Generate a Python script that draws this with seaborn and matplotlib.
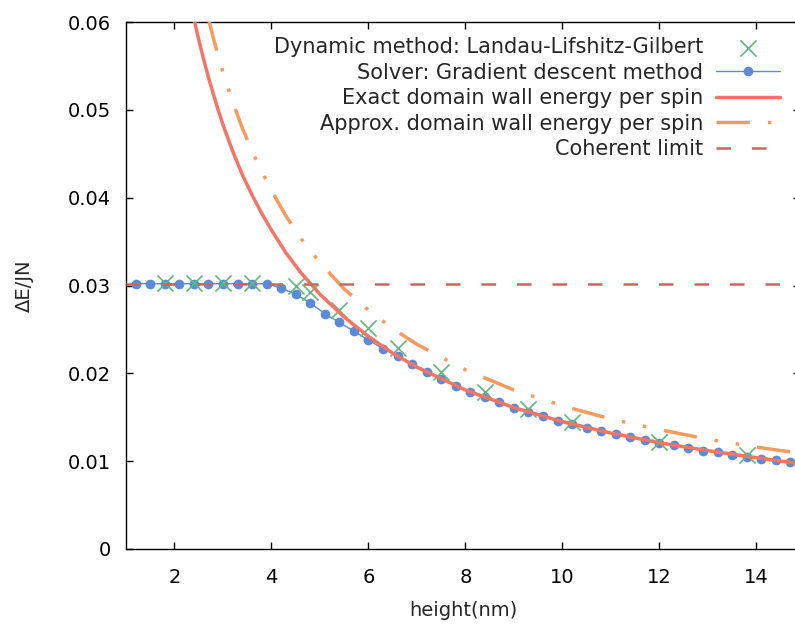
import numpy as np
import matplotlib
matplotlib.use("Agg")
import matplotlib.pyplot as plt
import seaborn as sns

# Solver: gradient descent (blue dots)
gd_height = [1.2, 1.5, 1.8, 2.1, 2.4, 2.7, 3.0, 3.3, 3.6, 3.9,
             4.2, 4.5, 4.8, 5.1, 5.4, 5.7, 6.0, 6.3, 6.6, 6.9,
             7.2, 7.5, 7.8, 8.1, 8.4, 8.7, 9.0, 9.3, 9.6, 9.9,
             10.2, 10.5, 10.8, 11.1, 11.4, 11.7, 12.0, 12.3, 12.6, 12.9,
             13.2, 13.5, 13.8, 14.1, 14.4, 14.7]
gd_energy = [0.0302, 0.0302, 0.0302, 0.0302, 0.0302, 0.0302, 0.0302, 0.0302, 0.0302, 0.0302,
             0.0297, 0.0290, 0.0280, 0.0268, 0.0258, 0.0248, 0.0238, 0.0228, 0.0220, 0.0211,
             0.0202, 0.0194, 0.0186, 0.0179, 0.0173, 0.0167, 0.0161, 0.0156, 0.0151, 0.0146,
             0.0142, 0.0138, 0.0134, 0.0131, 0.0127, 0.0124, 0.0121, 0.0118, 0.0115, 0.0112,
             0.0110, 0.0107, 0.0105, 0.0103, 0.0101, 0.0099]

# Dynamic method: LLG (green crosses)
llg_height = [1.8, 2.4, 3.0, 3.6, 4.5, 4.8, 5.4, 6.0, 6.6, 7.5, 8.4, 9.3, 10.2, 12.0, 13.8]
llg_energy = [0.0303, 0.0303, 0.0303, 0.0303, 0.0299, 0.0293, 0.0272, 0.0252, 0.0229,
              0.0202, 0.0179, 0.0159, 0.0145, 0.0122, 0.0107]

# exact domain wall energy per spin
exact_height = [2.4, 2.5, 2.6, 2.7, 2.8, 2.9, 3.0, 3.2, 3.4, 3.6, 3.8, 4.0, 4.3, 4.6,
                5.0, 5.5, 6.0, 6.5, 7.0, 8.0, 9.0, 10.0, 11.0, 12.0, 13.0, 14.0, 14.9]
exact_energy = [0.0604, 0.0580, 0.0558, 0.0537, 0.0518, 0.0500, 0.0483, 0.0453, 0.0426,
                0.0403, 0.0382, 0.0363, 0.0337, 0.0315, 0.0290, 0.0264, 0.0242, 0.0223,
                0.0207, 0.0181, 0.0161, 0.0145, 0.0132, 0.0121, 0.0112, 0.0104, 0.0097]

# approx. domain wall energy per spin
approx_height = [2.7, 2.8, 2.9, 3.0, 3.2, 3.4, 3.7, 4.0, 4.3, 4.6, 5.0, 5.5, 6.0, 6.5,
                 7.0, 8.0, 9.0, 10.0, 11.0, 12.0, 13.0, 14.0, 14.9]
approx_energy = [0.0604, 0.0582, 0.0562, 0.0543, 0.0509, 0.0479, 0.0441, 0.0408, 0.0379,
                 0.0354, 0.0326, 0.0296, 0.0272, 0.0251, 0.0233, 0.0204, 0.0181, 0.0163,
                 0.0148, 0.0136, 0.0125, 0.0116, 0.0109]

# coherent limit
coherent_height = [1.0, 14.9]
coherent_energy = [0.0302, 0.0302]

y_ticks = [0, 0.01, 0.02, 0.03, 0.04, 0.05, 0.06]
y_tick_labels = ["0", "0.01", "0.02", "0.03", "0.04", "0.05", "0.06"]
x_ticks = [2, 4, 6, 8, 10, 12, 14]

sns.set_style("ticks")
plt.rcParams['font.family'] = ['DejaVu Sans']

fig = plt.figure(figsize=(7.95, 6.26), dpi=100)
ax = fig.add_axes([126 / 795, 77 / 626, 674 / 795, 527 / 626])

sns.lineplot(x=gd_height, y=gd_energy, ax=ax, color="#5b8ad8", linewidth=1,
             marker="o", markersize=7, markeredgewidth=0, zorder=2,
             label="Solver: Gradient descent method")
sns.scatterplot(x=llg_height, y=llg_energy, ax=ax, color="#5dbb7f", marker="x",
                s=135, linewidth=1.2, zorder=3,
                label="Dynamic method: Landau-Lifshitz-Gilbert")
sns.lineplot(x=exact_height, y=exact_energy, ax=ax, color="#f47565", linewidth=2.5,
             zorder=4, label="Exact domain wall energy per spin")
sns.lineplot(x=approx_height, y=approx_energy, ax=ax, color="#f99a5d", linewidth=2.5,
             zorder=4, label="Approx. domain wall energy per spin",
             linestyle=(0, (9.6, 5.2, 1.0, 5.2, 1.0, 5.2)), dash_capstyle="butt")
sns.lineplot(x=coherent_height, y=coherent_energy, ax=ax, color="#d95f5f", linewidth=1.8,
             zorder=5, label="Coherent limit", linestyle=(0, (5.8, 8.4)))

ax.set_xlim(1, 14.9)
ax.set_ylim(0, 0.06)
ax.set_xticks(x_ticks)
ax.set_yticks(y_ticks)
ax.set_yticklabels(y_tick_labels)
ax.tick_params(direction="in", length=5, width=1, top=True, right=True,
               labelsize=14, colors="black")
ax.tick_params(axis="x", pad=14)
ax.tick_params(axis="y", pad=11)
for sp in ax.spines.values():
    sp.set_linewidth(1)
    sp.set_color("black")

ax.set_xlabel("height(nm)", fontsize=14, labelpad=10)
ax.set_ylabel("ΔE/JN", fontsize=14, labelpad=24)

handles, labels = ax.get_legend_handles_labels()
order = [labels.index("Dynamic method: Landau-Lifshitz-Gilbert"),
         labels.index("Solver: Gradient descent method"),
         labels.index("Exact domain wall energy per spin"),
         labels.index("Approx. domain wall energy per spin"),
         labels.index("Coherent limit")]
ax.legend([handles[i] for i in order], [labels[i] for i in order],
          loc="upper right", bbox_to_anchor=(0.97, 0.971), frameon=False,
          markerfirst=False, fontsize=15, handlelength=3.07, handletextpad=0.6,
          labelspacing=0.26, borderpad=0, borderaxespad=0)

fig.savefig("out.png", dpi=100)
